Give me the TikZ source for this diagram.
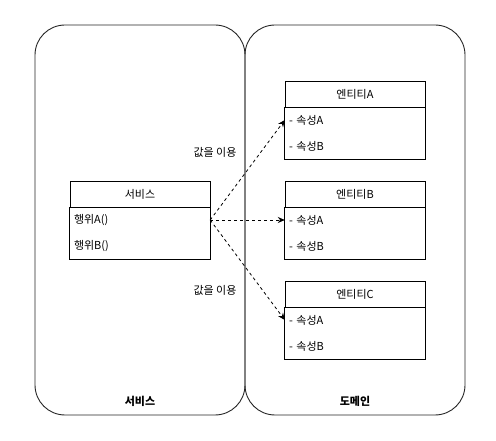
\documentclass[tikz,border=0pt]{standalone}
\usepackage{fontspec}
\setmainfont{Noto Sans CJK KR}
\usetikzlibrary{arrows.meta}
\tikzset{
  container/.style={draw=black!85, line width=0.9pt, rounded corners=30pt},
  hdr/.style={draw=black, line width=0.8pt, minimum width=140pt, minimum height=26pt, inner sep=0pt, font=\fontsize{11}{13}\selectfont},
  rowtxt/.style={minimum width=140pt, minimum height=26pt, inner xsep=4pt, inner ysep=0pt, text width=132pt, align=left, font=\fontsize{11}{13}\selectfont},
  boxline/.style={draw=black, line width=0.8pt},
  flow/.style={dashed, dash pattern=on 3pt off 3pt, line width=0.8pt, -{Stealth[length=7pt,width=6pt]}},
  lbl/.style={font=\fontsize{11}{13}\selectfont, inner sep=0pt},
  boldlbl/.style={font=\fontsize{11}{13}\selectfont\bfseries, inner sep=0pt}
}
\begin{document}
\begin{tikzpicture}[x=1pt,y=-1pt]
\useasboundingbox (0,0) rectangle (496,441);
% containers
\draw[container] (35,25) rectangle (245,415);
\draw[container] (245,25) rectangle (465,415);
\node[boldlbl] (svclbl) at (140,401) {서비스};
\node[boldlbl] (domlbl) at (355,401) {도메인};

% service class
\node[hdr] (svc) at (140,194.5) {서비스};
\node[rowtxt] (svcA) at (140,220) {행위A()};
\node[rowtxt] (svcB) at (140,246) {행위B()};
\draw[boxline] (svc.south west) rectangle (svcB.south east);

% entity A
\node[hdr] (ea) at (355,94) {엔티티A};
\node[rowtxt] (eaA) at (355,120) {- 속성A};
\node[rowtxt] (eaB) at (355,146) {- 속성B};
\draw[boxline] (ea.south west) rectangle (eaB.south east);

% entity B
\node[hdr] (eb) at (355,194.5) {엔티티B};
\node[rowtxt] (ebA) at (355,220) {- 속성A};
\node[rowtxt] (ebB) at (355,246) {- 속성B};
\draw[boxline] (eb.south west) rectangle (ebB.south east);

% entity C
\node[hdr] (ec) at (355,294) {엔티티C};
\node[rowtxt] (ecA) at (355,320) {- 속성A};
\node[rowtxt] (ecB) at (355,346) {- 속성B};
\draw[boxline] (ec.south west) rectangle (ecB.south east);

% connectors
\coordinate (src) at (svcA.east);
\draw[flow] (src) -- (eaA.west);
\draw[flow] (src) -- (ebA.west);
\draw[flow] (src) -- (ecA.west);

\node[lbl] (use1) at (215,152) {값을 이용};
\node[lbl] (use2) at (215,290) {값을 이용};
\end{tikzpicture}
\end{document}
